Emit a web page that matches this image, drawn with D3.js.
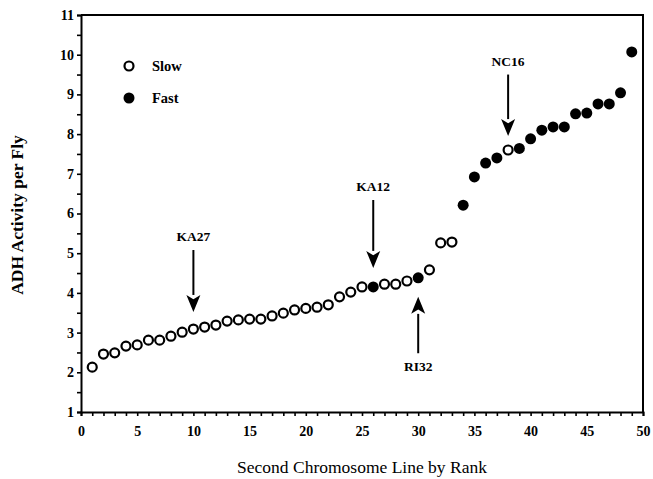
<!DOCTYPE html>
<html>
<head>
<meta charset="utf-8">
<script src="https://cdn.jsdelivr.net/npm/d3@7"></script>
<style>
	body { margin: 0; background: #fff; }
	svg text { font-family: "Liberation Serif", "Times New Roman", serif; fill: #000; }
</style>
</head>
<body>
<div id="chart"></div>
<script>

// rank of each second chromosome line, its ADH activity and its allele
var ranks = [1, 2, 3, 4, 5, 6, 7, 8, 9, 10, 11, 12, 13, 14, 15, 16, 17, 18, 19, 20, 21, 22, 23, 24, 25,
	26, 27, 28, 29, 30, 31, 32, 33, 34, 35, 36, 37, 38, 39, 40, 41, 42, 43, 44, 45, 46, 47, 48, 49];
var activity = [2.13, 2.46, 2.49, 2.66, 2.69, 2.81, 2.81, 2.91, 3.01, 3.09, 3.14, 3.19, 3.29, 3.32, 3.34,
	3.34, 3.42, 3.49, 3.57, 3.61, 3.64, 3.70, 3.90, 4.02, 4.15, 4.15, 4.22, 4.22, 4.30, 4.38, 4.58,
	5.26, 5.28, 6.21, 6.92, 7.27, 7.40, 7.60, 7.64, 7.88, 8.10, 8.18, 8.18, 8.51, 8.53, 8.76, 8.76, 9.04, 10.07];
var allele = ["S", "S", "S", "S", "S", "S", "S", "S", "S", "S", "S", "S", "S", "S", "S", "S", "S", "S",
	"S", "S", "S", "S", "S", "S", "S", "F", "S", "S", "S", "F", "S", "S", "S", "F", "F", "F", "F", "S",
	"F", "F", "F", "F", "F", "F", "F", "F", "F", "F", "F"];

var xTicks = [0, 5, 10, 15, 20, 25, 30, 35, 40, 45, 50];
var yTicks = [1, 2, 3, 4, 5, 6, 7, 8, 9, 10, 11];

var legendLabels = ["Slow", "Fast"];

// labelled lines: name, rank, arrow tail and head (activity units)
var markNames = ["KA27", "KA12", "RI32", "NC16"];
var markRanks = [10, 26, 30, 38];
var markFrom = [5.08, 6.34, 2.48, 9.50];
var markTo = [3.52, 4.63, 3.90, 7.95];

var width = 653, height = 479;
var svg = d3.select("#chart").append("svg")
	.attr("width", width)
	.attr("height", height);

var serif = '"Liberation Serif", "Times New Roman", serif';

var x = d3.scaleLinear().domain([0, 50]).range([81, 643]);
var y = d3.scaleLinear().domain([1, 11]).range([412, 15]);

// frame top and right
svg.append("path")
	.attr("d", "M" + x(0) + "," + y(11) + "H" + x(50) + "V" + y(1))
	.attr("fill", "none").attr("stroke", "#000").attr("stroke-width", 2);

// x axis
var xAxis = svg.append("g").attr("transform", "translate(0," + y(1) + ")")
	.call(d3.axisBottom(x).tickValues(d3.range(0, 51)).tickSize(4)
		.tickFormat(function(d) { return xTicks.indexOf(d) >= 0 ? d : ""; }));
xAxis.attr("font-family", serif);
xAxis.select(".domain").attr("stroke-width", 2);
xAxis.selectAll(".tick line").attr("stroke-width", 1.6);
xAxis.selectAll("text")
	.attr("dy", "1.2em")
	.style("font-family", serif)
	.style("font-size", "14px").style("font-weight", "bold");

// y axis
var yAxis = svg.append("g").attr("transform", "translate(" + x(0) + ",0)")
	.call(d3.axisLeft(y).tickValues(d3.range(1, 11.01, 0.5)).tickSize(4).tickPadding(3)
		.tickFormat(function(d) { return yTicks.indexOf(d) >= 0 ? d : ""; }));
yAxis.attr("font-family", serif);
yAxis.select(".domain").attr("stroke-width", 2);
yAxis.selectAll(".tick line").attr("stroke-width", 1.6);
yAxis.selectAll("text")
	.style("font-family", serif)
	.style("font-size", "14px").style("font-weight", "bold");

// axis titles
svg.append("text")
	.attr("x", 362).attr("y", 473)
	.attr("text-anchor", "middle")
	.style("font-size", "17.5px")
	.text("Second Chromosome Line by Rank");

svg.append("text")
	.attr("transform", "translate(23,215) rotate(-90)")
	.attr("text-anchor", "middle")
	.style("font-size", "17.5px").style("font-weight", "bold")
	.text("ADH Activity per Fly");

// points
svg.append("g").selectAll("circle")
	.data(ranks)
	.enter().append("circle")
	.attr("cx", function(d) { return x(d); })
	.attr("cy", function(d, i) { return y(activity[i]); })
	.attr("r", function(d, i) { return allele[i] === "S" ? 4.5 : 5.5; })
	.attr("fill", function(d, i) { return allele[i] === "S" ? "#fff" : "#000"; })
	.attr("stroke", "#000")
	.attr("stroke-width", function(d, i) { return allele[i] === "S" ? 2.2 : 0; });

// legend
var legend = svg.append("g");
legendLabels.forEach(function(label, i) {
	var ly = 66 + i * 32;
	legend.append("circle")
		.attr("cx", 129).attr("cy", ly)
		.attr("r", i === 0 ? 4.5 : 5.5)
		.attr("fill", i === 0 ? "#fff" : "#000")
		.attr("stroke", "#000").attr("stroke-width", i === 0 ? 2.2 : 0);
	legend.append("text")
		.attr("x", 152).attr("y", ly + 5)
		.style("font-size", "14.5px").style("font-weight", "bold")
		.text(label);
});

// arrows with labels
markNames.forEach(function(name, i) {
	var ax = x(markRanks[i]);
	var y0 = y(markFrom[i]), y1 = y(markTo[i]);
	var dir = y1 > y0 ? 1 : -1;
	var head = 17, half = 7;
	svg.append("line")
		.attr("x1", ax).attr("x2", ax)
		.attr("y1", y0).attr("y2", y1 - dir * head)
		.attr("stroke", "#000").attr("stroke-width", 2);
	svg.append("path")
		.attr("d", "M" + (ax - half) + "," + (y1 - dir * head) + "L" + ax + "," + y1 +
			"L" + (ax + half) + "," + (y1 - dir * head) + "L" + ax + "," + (y1 - dir * head * 0.75) + "Z")
		.attr("fill", "#000");
	svg.append("text")
		.attr("x", ax)
		.attr("y", dir > 0 ? y0 - 9 : y0 + 18)
		.attr("text-anchor", "middle")
		.style("font-size", "13.5px").style("font-weight", "bold")
		.text(name);
});

</script>
</body>
</html>
